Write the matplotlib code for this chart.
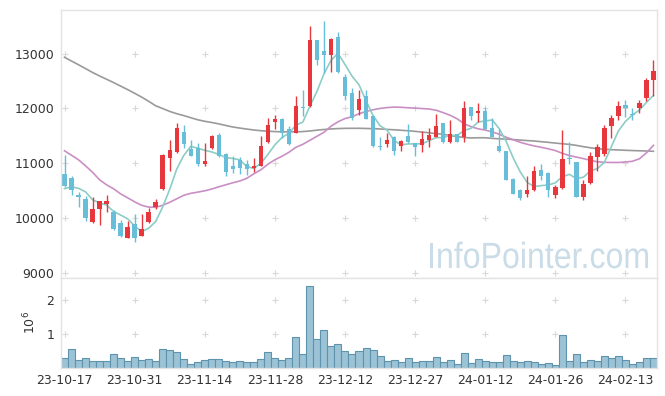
import matplotlib
matplotlib.use("Agg")
import matplotlib.pyplot as plt
from matplotlib.font_manager import FontProperties
from matplotlib.textpath import TextPath
from matplotlib.patches import PathPatch
from matplotlib.transforms import Affine2D
import numpy as np
import pandas as pd

# 거래일 (한국 휴장일 제외)
holidays = ["2023-12-25", "2023-12-29", "2024-01-01", "2024-02-09", "2024-02-12"]
dates = pd.bdate_range("2023-10-17", "2024-02-19")
dates = dates[~dates.isin(pd.to_datetime(holidays))]

opens = [10805, 10732, 10420, 10350, 9915, 10165, 10260, 10115, 9910, 9635,
         9890, 9670, 9915, 10195, 10525, 11090, 11195, 11575, 11260, 11285,
         10985, 11270, 11520, 11170, 10940, 11060, 10985, 10910, 10955, 11395,
         11760, 11810, 11625, 11560, 12020, 12050, 13255, 13055, 12980, 13305,
         12575, 12290, 11975, 12230, 11855, 11310, 11355, 11485, 11305, 11500,
         11365, 11340, 11425, 11485, 11735, 11395, 11535, 11485, 12025, 11915,
         11955, 11650, 11305, 11215, 10715, 10515, 10440, 10500, 10880, 10820,
         10420, 10545, 11085, 11020, 10390, 10635, 11120, 11170, 11685, 11865,
         12060, 11900, 12005, 12200, 12525]
highs = [11150, 10770, 10465, 10400, 10390, 10310, 10420, 10135, 9965, 9935,
         10075, 10075, 10180, 10340, 11160, 11425, 11735, 11695, 11425, 11365,
         11365, 11510, 11560, 11180, 11135, 11120, 11060, 11100, 11500, 11825,
         11885, 11820, 11670, 12230, 12330, 13510, 13260, 13590, 13280, 13395,
         12635, 12375, 12340, 12340, 11860, 11485, 11550, 11490, 11420, 11720,
         11370, 11580, 11640, 11895, 11740, 11795, 11540, 12140, 12030, 12100,
         12025, 11825, 11625, 11220, 10720, 10520, 10770, 10940, 10990, 10830,
         10605, 11610, 11380, 11030, 10685, 11195, 11355, 11700, 11885, 12130,
         12160, 12005, 12160, 12555, 12890]
lows = [10570, 10420, 10205, 9950, 9905, 9860, 10105, 9780, 9645, 9630,
        9565, 9660, 9900, 10160, 10510, 10865, 11190, 11285, 11125, 10940,
        10950, 11260, 11120, 10770, 10820, 10800, 10790, 10830, 10940, 11365,
        11625, 11465, 11340, 11550, 11855, 12035, 12800, 12645, 12675, 12650,
        12160, 11795, 11885, 11810, 11300, 11245, 11295, 11155, 11215, 11365,
        11135, 11200, 11300, 11480, 11370, 11375, 11390, 11395, 11795, 11760,
        11610, 11480, 11205, 10690, 10430, 10330, 10390, 10490, 10695, 10390,
        10360, 10535, 10990, 10385, 10330, 10625, 10865, 11135, 11460, 11795,
        11840, 11780, 11915, 12130, 12220]
closes = [10590, 10500, 10390, 10005, 10165, 10300, 10310, 9805, 9675, 9825,
          9640, 9795, 10110, 10295, 11155, 11245, 11645, 11355, 11135, 10990,
          11045, 11500, 11135, 10845, 10900, 10920, 10895, 10955, 11315, 11700,
          11810, 11550, 11355, 12050, 12000, 13255, 12890, 12970, 13270, 12660,
          12235, 11825, 12175, 11815, 11305, 11300, 11425, 11230, 11410, 11395,
          11295, 11440, 11520, 11685, 11380, 11535, 11395, 12005, 11870, 11955,
          11630, 11485, 11215, 10695, 10440, 10360, 10515, 10860, 10770, 10500,
          10555, 11080, 11070, 10390, 10615, 11135, 11295, 11640, 11830, 12050,
          12000, 11880, 12100, 12525, 12690]
volumes = [270000, 540000, 220000, 270000, 190000, 190000, 190000, 390000, 270000, 190000,
           300000, 220000, 240000, 190000, 540000, 510000, 450000, 240000, 95000, 150000,
           220000, 240000, 240000, 190000, 150000, 190000, 150000, 150000, 240000, 450000,
           270000, 220000, 270000, 900000, 390000, 2420000, 840000, 1100000, 630000, 690000,
           490000, 390000, 490000, 570000, 510000, 330000, 190000, 220000, 150000, 270000,
           150000, 190000, 190000, 300000, 150000, 220000, 95000, 420000, 120000, 240000,
           190000, 150000, 150000, 360000, 190000, 150000, 190000, 150000, 95000, 120000,
           65000, 960000, 190000, 390000, 150000, 220000, 190000, 330000, 270000, 330000,
           220000, 95000, 150000, 270000, 270000]

# 이동평균 (5일선 앞부분, 20일선, 60일선은 그림에서 읽은 값)
ma5_head = [10535, 10565, 10540, 10475]
ma20 = [11226, 11144, 11061, 10951, 10833, 10695, 10604, 10531, 10439, 10366,
        10293, 10229, 10196, 10192, 10229, 10284, 10348, 10412, 10448, 10470,
        10494, 10527, 10567, 10604, 10641, 10673, 10723, 10805, 10878, 10979,
        11061, 11125, 11198, 11290, 11345, 11418, 11491, 11564, 11674, 11756,
        11815, 11848, 11903, 11945, 11976, 12000, 12016, 12025, 12021, 12012,
        12007, 11998, 11990, 11967, 11924, 11875, 11811, 11720, 11665, 11628,
        11604, 11573, 11528, 11473, 11427, 11381, 11345, 11314, 11290, 11262,
        11230, 11180, 11138, 11111, 11083, 11052, 11025, 11015, 11012, 11012,
        11021, 11034, 11080, 11189, 11326]
ma60 = [12936, 12866, 12799, 12729, 12658, 12594, 12534, 12473, 12409, 12345,
        12277, 12208, 12131, 12049, 11998, 11946, 11904, 11870, 11831, 11793,
        11765, 11743, 11718, 11689, 11661, 11641, 11623, 11606, 11593, 11584,
        11577, 11573, 11573, 11573, 11577, 11588, 11603, 11615, 11625, 11632,
        11636, 11637, 11637, 11634, 11630, 11625, 11617, 11610, 11601, 11592,
        11581, 11568, 11555, 11540, 11528, 11504, 11486, 11469, 11460, 11464,
        11464, 11453, 11445, 11440, 11431, 11422, 11412, 11405, 11392, 11380,
        11367, 11354, 11343, 11325, 11301, 11281, 11263, 11254, 11246, 11241,
        11235, 11230, 11226, 11222, 11217]

price_ticks = [9000, 10000, 11000, 12000, 13000]
vol_ticks = [1000000, 2000000]
vol_tick_labels = ["1", "2"]

plt.rcParams['font.family'] = 'DejaVu Sans'

o = np.array(opens, dtype=float)
c = np.array(closes, dtype=float)
x = np.arange(len(dates))
ma5 = pd.Series(closes, dtype=float).rolling(5).mean().values
ma5[:len(ma5_head)] = ma5_head

red = '#e8363d'
blue = '#68bed8'
colors = np.where(c >= o, red, blue)

W, H = 665, 396
fig = plt.figure(figsize=(W / 100, H / 100), dpi=100)
ax = fig.add_axes([61 / W, 1 - 278 / H, 596 / W, 268 / H])
axv = fig.add_axes([61 / W, 1 - 367.5 / H, 596 / W, 89.5 / H], sharex=ax)

# 이동평균선
ax.plot(x, ma60, color='#9a9a9a', lw=1.2, zorder=1)
ax.plot(x, ma20, color='#c98fc5', lw=1.2, zorder=1)
ax.plot(x, ma5, color='#8ccdc6', lw=1.2, zorder=1)

# 캔들
ax.vlines(x, lows, highs, colors=colors, lw=1, zorder=2)
body = np.maximum(np.abs(c - o), 18)
ax.bar(x, body, bottom=np.minimum(o, c), width=0.62, color=colors, zorder=2)

# 거래량
axv.bar(x, volumes, width=1.0, color='#9cc3d5', edgecolor='#5e93ad', lw=0.8)

ax.set_xlim(-0.5, len(x) - 0.5)
ax.set_ylim(8900, 13800)
axv.set_ylim(0, 2650000)

tick_pos = x[::10]
ax.set_xticks(tick_pos)
ax.set_yticks(price_ticks)
ax.set_yticklabels([str(v) for v in price_ticks])
plt.setp(ax.get_xticklabels(), visible=False)
axv.set_yticks(vol_ticks)
axv.set_yticklabels(vol_tick_labels)
axv.set_xticklabels([d.strftime('%y-%m-%d') for d in dates[::10]])
axv.set_ylabel('$10^6$', fontsize=9, color='#333333', labelpad=6)

# 격자 대신 + 표시
for a, yt in ((ax, price_ticks), (axv, vol_ticks)):
    gx, gy = np.meshgrid(tick_pos, yt)
    a.scatter(gx.ravel(), gy.ravel(), marker='+', s=14, color='#d8d8d8', lw=0.8, zorder=0)
    a.tick_params(length=0, labelsize=9, colors='#333333', pad=5)
    for s in a.spines.values():
        s.set_color('#e3e3e3')
        s.set_linewidth(1)

# 워터마크 (좁은 글꼴 느낌으로 가로 압축)
wm = TextPath((0, 0), 'InfoPointer.com', size=1, prop=FontProperties(family='Liberation Sans'))
ext = wm.get_extents()
sx = 218 / ext.width
sy = 36.5
tr = Affine2D().translate(-ext.x0, 0).scale(sx / W, sy / H).translate(430 / W, 1 - 268 / H)
ax.add_patch(PathPatch(wm, transform=tr + fig.transFigure, facecolor='#c9dce7',
                       edgecolor='none', zorder=0, clip_on=False))

fig.savefig('out.png', dpi=100)
